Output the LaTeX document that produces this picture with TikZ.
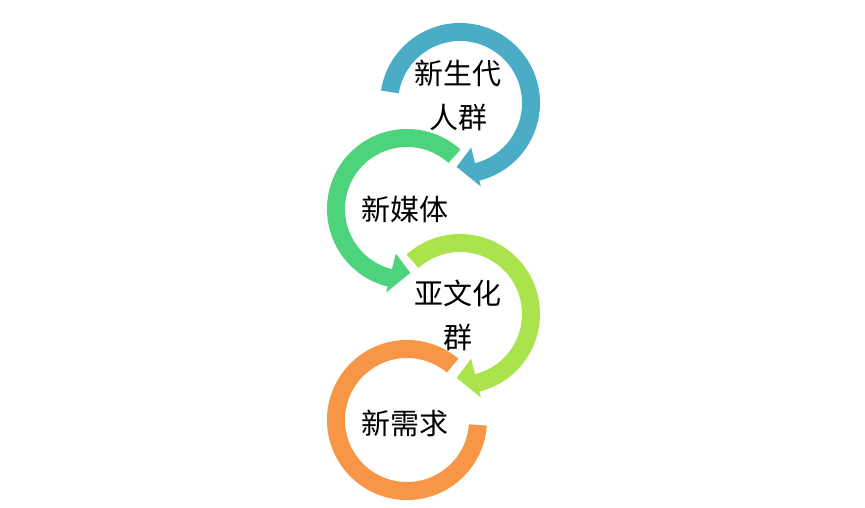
\documentclass[tikz,border=0pt]{standalone}
\usepackage{fontspec}
\usepackage{xcolor}
\usepackage{tikz}
\usetikzlibrary{calc}
\newfontfamily\cjk{Noto Sans CJK SC}
\definecolor{ringblue}{HTML}{4BACC6}
\definecolor{ringgreen}{HTML}{4CD37B}
\definecolor{ringlime}{HTML}{AAE34B}
\definecolor{ringorange}{HTML}{F79646}
\tikzset{
	ring text/.style={font=\cjk\fontsize{29}{44}\selectfont,align=center,inner sep=0pt}
}
% ring with an arrow head: centre, colour, start, head base, tip
\newcommand{\ringarrow}[5]{%
  \fill[#2] ($(#1)+(#3:80pt)$) arc[start angle=#3, end angle=#4, radius=80pt]
    -- ($(#1)+(#4:86pt)$) -- ($(#1)+(#5:64pt)$) -- ($(#1)+(#4:46pt)$)
    -- ($(#1)+(#4:62pt)$) arc[start angle=#4, end angle=#3, radius=62pt] -- cycle;}

\begin{document}
\begin{tikzpicture}[x=1pt,y=1pt]
  \useasboundingbox (0,0) rectangle (865,507);
  \coordinate (c1) at (460,404);
  \coordinate (c2) at (407,298);
  \coordinate (c3) at (460,193);
  \coordinate (c4) at (407,87);
  % rings
  \ringarrow{c1}{ringblue}{171}{-76}{-93}
  \ringarrow{c2}{ringgreen}{48}{256}{273}
  \ringarrow{c3}{ringlime}{132}{-76}{-93}
  \fill[ringorange] ($(c4)+(50:80pt)$) arc[start angle=50, end angle=356, radius=80pt]
    -- ($(c4)+(356:62pt)$) arc[start angle=356, end angle=50, radius=62pt] -- cycle;
  % labels
  \node [ring text] (t1) at (458,412) {新生代\\人群};
  \node [ring text] (t2) at ($(c2)+(-2,0)$) {新媒体};
  \node [ring text] (t3) at (458,192) {亚文化\\群};
  \node [ring text] (t4) at ($(c4)+(-2,-3)$) {新需求};
\end{tikzpicture}
\end{document}
